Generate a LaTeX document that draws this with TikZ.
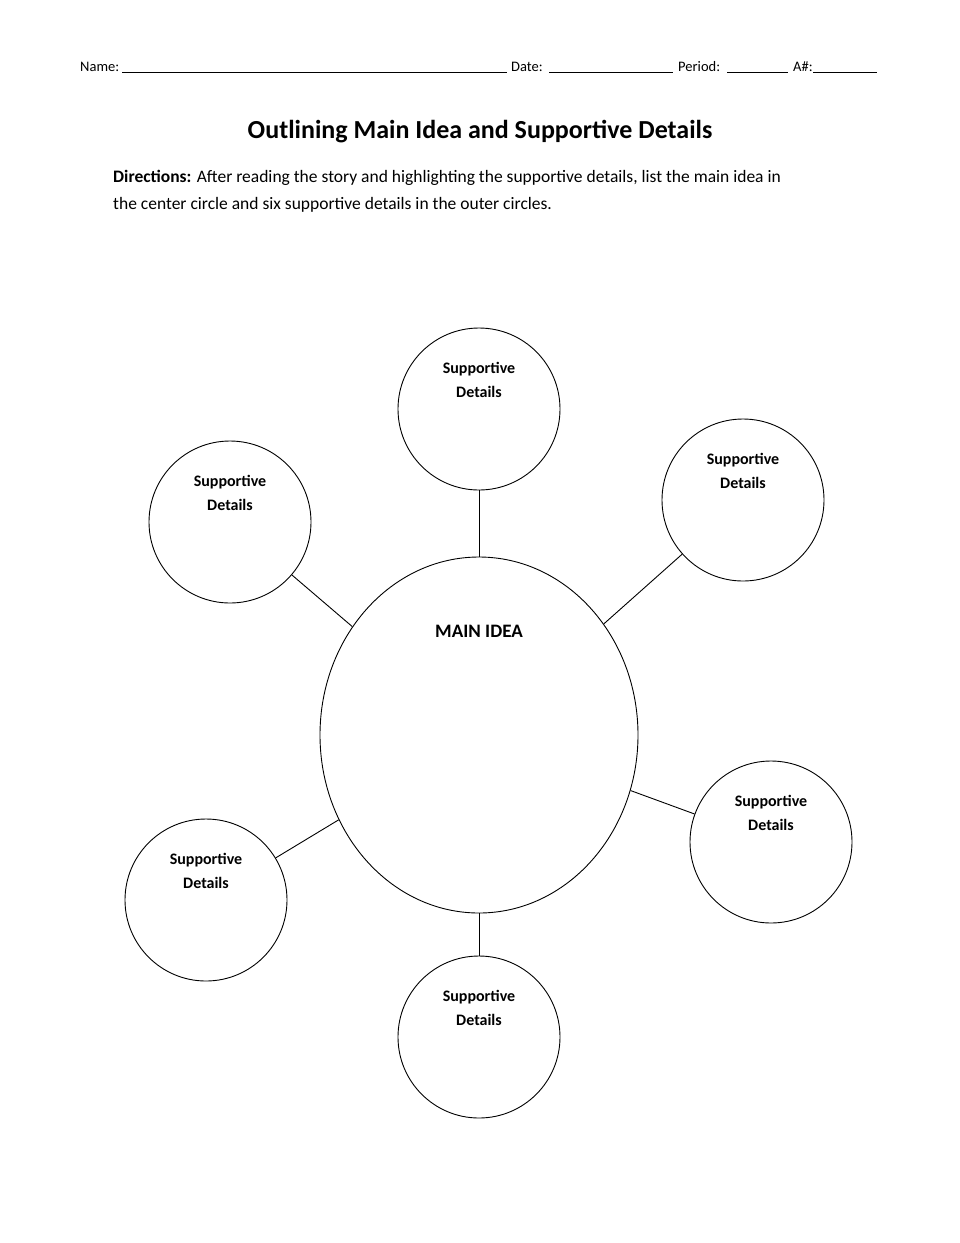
\documentclass[tikz,border=0pt]{standalone}
\usepackage{fontspec}
\setmainfont{Carlito}
\usetikzlibrary{shapes.geometric}
\begin{document}
\begin{tikzpicture}[x=1pt,y=-1pt,
  sd/.style={circle,draw,line width=0.9pt,minimum size=162pt,inner sep=0pt},
  lab/.style={font=\fontsize{16}{24}\selectfont\bfseries,align=center},
  hdr/.style={font=\fontsize{14.5}{16}\selectfont,anchor=base west,inner sep=0pt},
  ln/.style={line width=0.7pt}]
\useasboundingbox (0,0) rectangle (960,1243);
% header
\node[hdr] (nm) at (80,71) {Name:};
\draw[ln] (122,72) -- (507,72);
\node[hdr] (dt) at (511,71) {Date:};
\draw[ln] (549,72) -- (673,72);
\node[hdr] (pd) at (678,71) {Period:};
\draw[ln] (727,72) -- (788,72);
\node[hdr] (an) at (793,71) {A\#:};
\draw[ln] (813,72) -- (877,72);
\node[font=\fontsize{26}{30}\selectfont\bfseries] (title) at (480,132) {Outlining Main Idea and Supportive Details};
\node[anchor=north west,inner sep=0pt,align=left,font=\fontsize{17.5}{27}\selectfont] (dir) at (113,170)
 {\textbf{Directions:} After reading the story and highlighting the supportive details, list the main idea in\\the center circle and six supportive details in the outer circles.};
% main
\node[ellipse,draw,line width=0.9pt,minimum width=318pt,minimum height=356pt,inner sep=0pt] (main) at (479,735) {};
\node[font=\fontsize{19}{22}\selectfont\bfseries] (mt) at (479,631) {MAIN IDEA};
% circles
\node[sd] (c1) at (479,409) {};
\node[sd] (c2) at (743,500) {};
\node[sd] (c3) at (230,522) {};
\node[sd] (c4) at (771,842) {};
\node[sd] (c5) at (206,900) {};
\node[sd] (c6) at (479,1037) {};
\foreach \c in {c1,c2,c3,c4,c5,c6}{
  \node[lab] at ([yshift=29pt]\c.center) {Supportive\\Details};
  \draw[line width=0.9pt] (\c) -- (main);
}
\end{tikzpicture}
\end{document}
